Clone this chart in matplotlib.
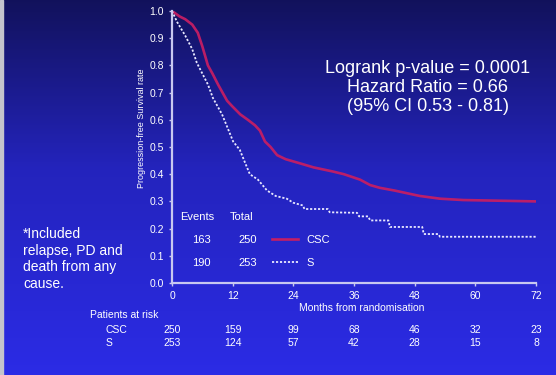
import numpy as np
import matplotlib
matplotlib.use("Agg")
import matplotlib.pyplot as plt
from matplotlib.colors import LinearSegmentedColormap
from matplotlib.transforms import blended_transform_factory

plt.rcParams['font.family'] = ['Liberation Sans', 'DejaVu Sans']

# ---- data (dense events drawn as connected points) ----
csc_months = [0, 1.5, 2.6, 4, 5.1, 6, 7.1, 8, 9.1, 10.9, 11.9, 13.5, 15, 16.4, 17.4,
              18.4, 19.5, 20.8, 22.5, 25.3, 28, 31.8, 34, 37.2, 39.2, 41.1, 44, 49,
              53, 57.6, 72]
csc_surv = [1.0, 0.98, 0.97, 0.95, 0.92, 0.87, 0.80, 0.77, 0.73, 0.67, 0.65, 0.62, 0.60,
            0.58, 0.56, 0.52, 0.50, 0.47, 0.455, 0.44, 0.425, 0.41, 0.40, 0.38, 0.36,
            0.35, 0.34, 0.32, 0.31, 0.305, 0.30]

s_months = [0, 1, 2.6, 4, 4.9, 6, 7.1, 8.1, 9.9, 11, 12.1, 13.4, 14.5, 15.4, 17, 18.8,
            20.5, 22.7, 24, 25.9, 26.2, 30.8, 31.2, 36.6, 37.0, 38.8, 39.2, 42.8, 43.1,
            49.5, 49.8, 52.7, 53, 72]
s_surv = [1.0, 0.96, 0.91, 0.86, 0.81, 0.77, 0.73, 0.68, 0.62, 0.57, 0.52, 0.49, 0.44,
          0.40, 0.38, 0.34, 0.32, 0.31, 0.295, 0.285, 0.272, 0.272, 0.26, 0.258, 0.245,
          0.245, 0.23, 0.23, 0.206, 0.206, 0.18, 0.18, 0.17, 0.17]

x_ticks = [0, 12, 24, 36, 48, 60, 72]
y_ticks = [0.0, 0.1, 0.2, 0.3, 0.4, 0.5, 0.6, 0.7, 0.8, 0.9, 1.0]
risk_csc = [250, 159, 99, 68, 46, 32, 23]
risk_s = [253, 124, 57, 42, 28, 15, 8]
events = [163, 190]
totals = [250, 253]
groups = ["CSC", "S"]
stats_lines = ["Logrank p-value = 0.0001", "Hazard Ratio = 0.66", "(95% CI 0.53 - 0.81)"]
note = "*Included\nrelapse, PD and\ndeath from any\ncause."

W, H = 556, 375
fig = plt.figure(figsize=(W / 100, H / 100), dpi=100)

# background gradient
bg = fig.add_axes([0, 0, 1, 1], zorder=-10)
cmap = LinearSegmentedColormap.from_list(
    "bg", [(0.0, (0.07, 0.07, 0.36)), (0.45, (0.14, 0.14, 0.74)), (1.0, (0.17, 0.17, 0.90))])
grad = np.linspace(0, 1, 256).reshape(-1, 1)
bg.imshow(grad, aspect='auto', cmap=cmap, extent=[0, 1, 0, 1], origin='upper')
bg.add_patch(plt.Rectangle((0, 0), 3 / W, 1, color='#c4c4cc', transform=bg.transAxes))
bg.set_xlim(0, 1); bg.set_ylim(0, 1)
bg.axis('off')

ax = fig.add_axes([172 / W, 1 - 283 / H, (536 - 172) / W, (283 - 11) / H])
ax.patch.set_alpha(0)
axis_col = '#c8c8f0'
for s in ['top', 'right']:
    ax.spines[s].set_visible(False)
for s in ['left', 'bottom']:
    ax.spines[s].set_color(axis_col)
    ax.spines[s].set_linewidth(1.6)

red = '#c41e64'
dot_style = dict(color='#e8e8ff', lw=1.3, linestyle=(0, (1.2, 1.0)))
ax.plot(csc_months, csc_surv, color=red, lw=1.9, alpha=0.95, solid_joinstyle='round')
ax.plot(s_months, s_surv, **dot_style)

ax.set_xlim(0, 72)
ax.set_ylim(0, 1.0)
ax.set_xticks(x_ticks)
ax.set_yticks(y_ticks)
ax.set_yticklabels([f"{v:.1f}" for v in y_ticks])
ax.tick_params(colors=axis_col, labelcolor='white', labelsize=7.5, length=2.5, width=1)
ax.set_ylabel("Progression-free Survival rate", color='white', fontsize=6.5)
ax.yaxis.set_label_coords(-0.072, 0.57)

# legend block
ax.text(1.6, 0.243, "Events", color='white', fontsize=8, va='center', ha='left')
ax.text(11.4, 0.243, "Total", color='white', fontsize=8, va='center', ha='left')
leg_y = [0.158, 0.074]
styles = [dict(color=red, lw=1.9), dot_style]
for i in range(2):
    ax.text(5.9, leg_y[i], str(events[i]), color='white', fontsize=8, va='center', ha='center')
    ax.text(15.0, leg_y[i], str(totals[i]), color='white', fontsize=8, va='center', ha='center')
    ax.plot([19.8, 24.9], [leg_y[i] + 0.004] * 2, **styles[i])
    ax.text(26.6, leg_y[i], groups[i], color='white', fontsize=8, va='center', ha='left')

# stats text
for txt, yy in zip(stats_lines, [0.79, 0.717, 0.648]):
    ax.text(50.6, yy, txt, color='white', fontsize=13, ha='center', va='center')

# x label
trans = blended_transform_factory(ax.transData, fig.transFigure)
fig.text(37.5, 1 - 308 / H, "Months from randomisation", color='white', fontsize=7.5,
         ha='center', va='center', transform=trans)

# note
fig.text(23 / W, 1 - 259 / H, note, color='white', fontsize=10, ha='left', va='center',
         linespacing=1.25)

# patients at risk
fig.text(90 / W, 1 - 315 / H, "Patients at risk", color='white', fontsize=7.5,
         ha='left', va='center')
row_y = [1 - 330 / H, 1 - 343 / H]
for lab, yy in zip(groups, row_y):
    fig.text(106 / W, yy, lab, color='white', fontsize=7.5, ha='left', va='center')
for xv, c, s in zip(x_ticks, risk_csc, risk_s):
    fig.text(xv, row_y[0], str(c), color='white', fontsize=7.5, ha='center', va='center',
             transform=trans)
    fig.text(xv, row_y[1], str(s), color='white', fontsize=7.5, ha='center', va='center',
             transform=trans)

fig.savefig("out.png", dpi=100)
